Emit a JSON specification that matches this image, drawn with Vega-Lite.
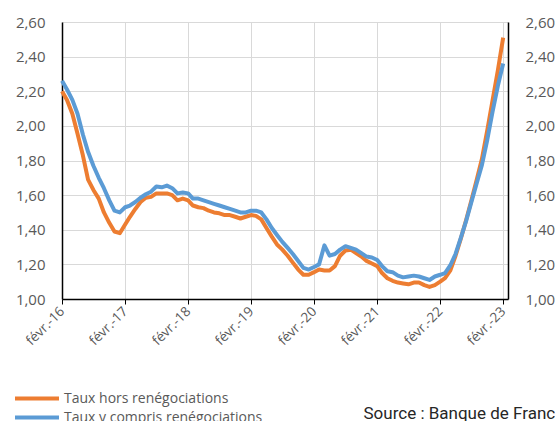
{
  "$schema": "https://vega.github.io/schema/vega-lite/v6.json",
  "width": 446,
  "height": 277,
  "autosize": {"type": "none"},
  "padding": {"left": 62, "top": 22, "right": 47, "bottom": 122},
  "background": "white",
  "config": {"view": {"stroke": null}, "font": "Open Sans"},
  "data": {
    "values": [
      {"date": "2016-02-01", "Taux hors renégociations": 2.20, "Taux y compris renégociations": 2.26},
      {"date": "2016-03-01", "Taux hors renégociations": 2.15, "Taux y compris renégociations": 2.21},
      {"date": "2016-04-01", "Taux hors renégociations": 2.07, "Taux y compris renégociations": 2.15},
      {"date": "2016-05-01", "Taux hors renégociations": 1.955, "Taux y compris renégociations": 2.07},
      {"date": "2016-06-01", "Taux hors renégociations": 1.83, "Taux y compris renégociations": 1.95},
      {"date": "2016-07-01", "Taux hors renégociations": 1.69, "Taux y compris renégociations": 1.85},
      {"date": "2016-08-01", "Taux hors renégociations": 1.63, "Taux y compris renégociations": 1.77},
      {"date": "2016-09-01", "Taux hors renégociations": 1.58, "Taux y compris renégociations": 1.70},
      {"date": "2016-10-01", "Taux hors renégociations": 1.50, "Taux y compris renégociations": 1.64},
      {"date": "2016-11-01", "Taux hors renégociations": 1.44, "Taux y compris renégociations": 1.57},
      {"date": "2016-12-01", "Taux hors renégociations": 1.39, "Taux y compris renégociations": 1.51},
      {"date": "2017-01-01", "Taux hors renégociations": 1.38, "Taux y compris renégociations": 1.50},
      {"date": "2017-02-01", "Taux hors renégociations": 1.43, "Taux y compris renégociations": 1.53},
      {"date": "2017-03-01", "Taux hors renégociations": 1.475, "Taux y compris renégociations": 1.54},
      {"date": "2017-04-01", "Taux hors renégociations": 1.52, "Taux y compris renégociations": 1.56},
      {"date": "2017-05-01", "Taux hors renégociations": 1.56, "Taux y compris renégociations": 1.585},
      {"date": "2017-06-01", "Taux hors renégociations": 1.585, "Taux y compris renégociations": 1.605},
      {"date": "2017-07-01", "Taux hors renégociations": 1.59, "Taux y compris renégociations": 1.62},
      {"date": "2017-08-01", "Taux hors renégociations": 1.61, "Taux y compris renégociations": 1.65},
      {"date": "2017-09-01", "Taux hors renégociations": 1.61, "Taux y compris renégociations": 1.645},
      {"date": "2017-10-01", "Taux hors renégociations": 1.61, "Taux y compris renégociations": 1.655},
      {"date": "2017-11-01", "Taux hors renégociations": 1.60, "Taux y compris renégociations": 1.64},
      {"date": "2017-12-01", "Taux hors renégociations": 1.57, "Taux y compris renégociations": 1.61},
      {"date": "2018-01-01", "Taux hors renégociations": 1.58, "Taux y compris renégociations": 1.615},
      {"date": "2018-02-01", "Taux hors renégociations": 1.57, "Taux y compris renégociations": 1.61},
      {"date": "2018-03-01", "Taux hors renégociations": 1.54, "Taux y compris renégociations": 1.58},
      {"date": "2018-04-01", "Taux hors renégociations": 1.53, "Taux y compris renégociations": 1.58},
      {"date": "2018-05-01", "Taux hors renégociations": 1.525, "Taux y compris renégociations": 1.57},
      {"date": "2018-06-01", "Taux hors renégociations": 1.51, "Taux y compris renégociations": 1.56},
      {"date": "2018-07-01", "Taux hors renégociations": 1.50, "Taux y compris renégociations": 1.55},
      {"date": "2018-08-01", "Taux hors renégociations": 1.495, "Taux y compris renégociations": 1.54},
      {"date": "2018-09-01", "Taux hors renégociations": 1.485, "Taux y compris renégociations": 1.53},
      {"date": "2018-10-01", "Taux hors renégociations": 1.485, "Taux y compris renégociations": 1.52},
      {"date": "2018-11-01", "Taux hors renégociations": 1.475, "Taux y compris renégociations": 1.51},
      {"date": "2018-12-01", "Taux hors renégociations": 1.465, "Taux y compris renégociations": 1.50},
      {"date": "2019-01-01", "Taux hors renégociations": 1.475, "Taux y compris renégociations": 1.50},
      {"date": "2019-02-01", "Taux hors renégociations": 1.485, "Taux y compris renégociations": 1.51},
      {"date": "2019-03-01", "Taux hors renégociations": 1.48, "Taux y compris renégociations": 1.51},
      {"date": "2019-04-01", "Taux hors renégociations": 1.46, "Taux y compris renégociations": 1.50},
      {"date": "2019-05-01", "Taux hors renégociations": 1.41, "Taux y compris renégociations": 1.46},
      {"date": "2019-06-01", "Taux hors renégociations": 1.36, "Taux y compris renégociations": 1.41},
      {"date": "2019-07-01", "Taux hors renégociations": 1.315, "Taux y compris renégociations": 1.37},
      {"date": "2019-08-01", "Taux hors renégociations": 1.285, "Taux y compris renégociations": 1.33},
      {"date": "2019-09-01", "Taux hors renégociations": 1.25, "Taux y compris renégociations": 1.295},
      {"date": "2019-10-01", "Taux hors renégociations": 1.21, "Taux y compris renégociations": 1.26},
      {"date": "2019-11-01", "Taux hors renégociations": 1.17, "Taux y compris renégociations": 1.22},
      {"date": "2019-12-01", "Taux hors renégociations": 1.14, "Taux y compris renégociations": 1.18},
      {"date": "2020-01-01", "Taux hors renégociations": 1.14, "Taux y compris renégociations": 1.17},
      {"date": "2020-02-01", "Taux hors renégociations": 1.155, "Taux y compris renégociations": 1.185},
      {"date": "2020-03-01", "Taux hors renégociations": 1.17, "Taux y compris renégociations": 1.20},
      {"date": "2020-04-01", "Taux hors renégociations": 1.165, "Taux y compris renégociations": 1.31},
      {"date": "2020-05-01", "Taux hors renégociations": 1.165, "Taux y compris renégociations": 1.25},
      {"date": "2020-06-01", "Taux hors renégociations": 1.19, "Taux y compris renégociations": 1.26},
      {"date": "2020-07-01", "Taux hors renégociations": 1.25, "Taux y compris renégociations": 1.285},
      {"date": "2020-08-01", "Taux hors renégociations": 1.28, "Taux y compris renégociations": 1.305},
      {"date": "2020-09-01", "Taux hors renégociations": 1.285, "Taux y compris renégociations": 1.295},
      {"date": "2020-10-01", "Taux hors renégociations": 1.265, "Taux y compris renégociations": 1.285},
      {"date": "2020-11-01", "Taux hors renégociations": 1.245, "Taux y compris renégociations": 1.265},
      {"date": "2020-12-01", "Taux hors renégociations": 1.22, "Taux y compris renégociations": 1.245},
      {"date": "2021-01-01", "Taux hors renégociations": 1.205, "Taux y compris renégociations": 1.24},
      {"date": "2021-02-01", "Taux hors renégociations": 1.19, "Taux y compris renégociations": 1.225},
      {"date": "2021-03-01", "Taux hors renégociations": 1.15, "Taux y compris renégociations": 1.19},
      {"date": "2021-04-01", "Taux hors renégociations": 1.12, "Taux y compris renégociations": 1.16},
      {"date": "2021-05-01", "Taux hors renégociations": 1.105, "Taux y compris renégociations": 1.155},
      {"date": "2021-06-01", "Taux hors renégociations": 1.095, "Taux y compris renégociations": 1.135},
      {"date": "2021-07-01", "Taux hors renégociations": 1.09, "Taux y compris renégociations": 1.125},
      {"date": "2021-08-01", "Taux hors renégociations": 1.085, "Taux y compris renégociations": 1.13},
      {"date": "2021-09-01", "Taux hors renégociations": 1.095, "Taux y compris renégociations": 1.135},
      {"date": "2021-10-01", "Taux hors renégociations": 1.095, "Taux y compris renégociations": 1.13},
      {"date": "2021-11-01", "Taux hors renégociations": 1.08, "Taux y compris renégociations": 1.12},
      {"date": "2021-12-01", "Taux hors renégociations": 1.07, "Taux y compris renégociations": 1.11},
      {"date": "2022-01-01", "Taux hors renégociations": 1.08, "Taux y compris renégociations": 1.13},
      {"date": "2022-02-01", "Taux hors renégociations": 1.10, "Taux y compris renégociations": 1.14},
      {"date": "2022-03-01", "Taux hors renégociations": 1.12, "Taux y compris renégociations": 1.15},
      {"date": "2022-04-01", "Taux hors renégociations": 1.165, "Taux y compris renégociations": 1.195},
      {"date": "2022-05-01", "Taux hors renégociations": 1.25, "Taux y compris renégociations": 1.26},
      {"date": "2022-06-01", "Taux hors renégociations": 1.35, "Taux y compris renégociations": 1.355},
      {"date": "2022-07-01", "Taux hors renégociations": 1.455, "Taux y compris renégociations": 1.45},
      {"date": "2022-08-01", "Taux hors renégociations": 1.57, "Taux y compris renégociations": 1.56},
      {"date": "2022-09-01", "Taux hors renégociations": 1.69, "Taux y compris renégociations": 1.67},
      {"date": "2022-10-01", "Taux hors renégociations": 1.81, "Taux y compris renégociations": 1.775},
      {"date": "2022-11-01", "Taux hors renégociations": 1.975, "Taux y compris renégociations": 1.92},
      {"date": "2022-12-01", "Taux hors renégociations": 2.145, "Taux y compris renégociations": 2.08},
      {"date": "2023-01-01", "Taux hors renégociations": 2.32, "Taux y compris renégociations": 2.23},
      {"date": "2023-02-01", "Taux hors renégociations": 2.51, "Taux y compris renégociations": 2.36}
    ]
  },
  "transform": [
    {"fold": ["Taux hors renégociations", "Taux y compris renégociations"], "as": ["serie", "taux"]}
  ],
  "encoding": {
    "x": {
      "field": "date",
      "type": "temporal",
      "scale": {
        "type": "utc",
        "domain": [
          {"year": 2016, "month": 2, "date": 1, "utc": true},
          {"year": 2023, "month": 3, "date": 1, "utc": true}
        ]
      },
      "axis": {
        "values": [
          {"year": 2016, "month": 2, "date": 1, "utc": true},
          {"year": 2017, "month": 2, "date": 1, "utc": true},
          {"year": 2018, "month": 2, "date": 1, "utc": true},
          {"year": 2019, "month": 2, "date": 1, "utc": true},
          {"year": 2020, "month": 2, "date": 1, "utc": true},
          {"year": 2021, "month": 2, "date": 1, "utc": true},
          {"year": 2022, "month": 2, "date": 1, "utc": true},
          {"year": 2023, "month": 2, "date": 1, "utc": true}
        ],
        "labelExpr": "'févr.-' + utcFormat(datum.value, '%y')",
        "labelAngle": -45,
        "labelAlign": "right",
        "labelBaseline": "middle",
        "labelPadding": 5,
        "labelFontSize": 13.5,
        "labelColor": "#595959",
        "labelOverlap": false,
        "labelFlush": false,
        "tickSize": 5,
        "tickColor": "#000000",
        "domainColor": "#000000",
        "domainWidth": 1.5,
        "grid": true,
        "gridColor": "#d9d9d9",
        "gridWidth": 1,
        "title": "Source : Banque de France",
        "titleX": 301,
        "titleY": 119,
        "titleAlign": "left",
        "titleBaseline": "alphabetic",
        "titleAngle": 0,
        "titleFont": "Roboto",
        "titleFontSize": 17,
        "titleFontWeight": "normal",
        "titleColor": "#262626"
      }
    }
  },
  "layer": [
    {
      "mark": {"type": "line", "strokeWidth": 4, "strokeJoin": "round"},
      "encoding": {
        "y": {
          "field": "taux",
          "type": "quantitative",
          "scale": {"domain": [1, 2.6], "nice": false, "zero": false},
          "axis": {
            "orient": "left",
            "values": [1, 1.2, 1.4, 1.6, 1.8, 2, 2.2, 2.4, 2.6],
            "labelExpr": "replace(format(datum.value, '.2f'), '.', ',')",
            "title": null,
            "ticks": false,
            "domainColor": "#000000",
            "domainWidth": 1.5,
            "grid": true,
            "gridColor": "#d9d9d9",
            "gridWidth": 1,
            "labelColor": "#595959",
            "labelFontSize": 15,
            "labelPadding": 17
          }
        },
        "color": {
          "field": "serie",
          "type": "nominal",
          "scale": {
            "domain": ["Taux hors renégociations", "Taux y compris renégociations"],
            "range": ["#ED7D31", "#5B9BD5"]
          },
          "legend": {
            "orient": "none",
            "legendX": -49,
            "legendY": 369,
            "title": null,
            "symbolType": "stroke",
            "symbolSize": 1936,
            "symbolStrokeWidth": 4,
            "clipHeight": 15,
            "rowPadding": 4,
            "labelFontSize": 14,
            "labelColor": "#595959",
            "labelOffset": 3,
            "labelLimit": 400,
            "padding": 0
          }
        }
      }
    },
    {
      "mark": {"type": "line", "opacity": 0},
      "encoding": {
        "y": {
          "field": "taux",
          "type": "quantitative",
          "scale": {"domain": [1, 2.6], "nice": false, "zero": false},
          "axis": {
            "orient": "right",
            "values": [1, 1.2, 1.4, 1.6, 1.8, 2, 2.2, 2.4, 2.6],
            "labelExpr": "replace(format(datum.value, '.2f'), '.', ',')",
            "title": null,
            "ticks": false,
            "domainColor": "#000000",
            "domainWidth": 1.5,
            "grid": false,
            "labelColor": "#595959",
            "labelFontSize": 15,
            "labelPadding": 17
          }
        }
      }
    }
  ],
  "resolve": {"axis": {"y": "independent"}}
}
